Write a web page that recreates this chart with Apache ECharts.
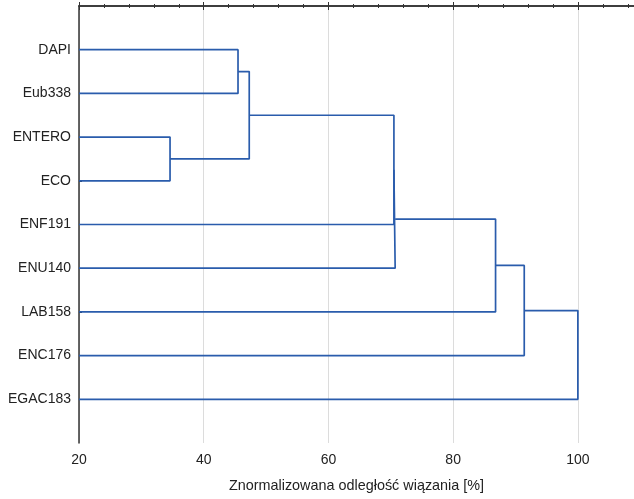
<!DOCTYPE html>
<html style="height: 100%">
<head>
    <meta charset="utf-8">
</head>
<body style="height: 100%; margin: 0">
<div id="container" style="width: 634px; height: 499px;"></div>

<script type="text/javascript" src="https://cdn.jsdelivr.net/npm/echarts@6/dist/echarts.min.js"></script>
<script type="text/javascript">
    // leaves, top to bottom
    var leaves = ['DAPI', 'Eub338', 'ENTERO', 'ECO', 'ENF191', 'ENU140', 'LAB158', 'ENC176', 'EGAC183'];
    // each merge joins two nodes (0..8 leaves, 9.. earlier merges) at a linkage distance
    var mergePairs = [[0, 1], [2, 3], [9, 10], [11, 4], [12, 5], [13, 6], [14, 7], [15, 8]];
    var mergeHeights = [45.5, 34.6, 47.3, 70.5, 70.7, 86.8, 91.4, 100];
    var xTicks = [20, 40, 60, 80, 100];

    var lineColor = '#2a5cac';
    var textColor = '#222';
    var font = 'Liberation Sans, Arial, sans-serif';

    // node positions: leaves sit at 1..9, a merge sits midway between its children
    var nodeY = leaves.map(function (n, i) { return i + 1; });
    var nodeH = leaves.map(function () { return 20; });
    var series = [];
    mergePairs.forEach(function (p, k) {
        var h = mergeHeights[k];
        var a = p[0], b = p[1];
        series.push({
            type: 'line',
            data: [[nodeH[a], nodeY[a]], [h, nodeY[a]], [h, nodeY[b]], [nodeH[b], nodeY[b]]],
            showSymbol: false,
            symbol: 'none',
            silent: true,
            animation: false,
            lineStyle: { color: lineColor, width: 1.7 }
        });
        nodeY.push((nodeY[a] + nodeY[b]) / 2);
        nodeH.push(h);
    });

    var dom = document.getElementById('container');
    var myChart = echarts.init(dom);

    var option = {
        animation: false,
        grid: { left: 79, right: 0, top: 6, bottom: 56, containLabel: false },
        xAxis: [{
            type: 'value',
            min: 20,
            max: 109,
            interval: 20,
            name: 'Znormalizowana odległość wiązania [%]',
            nameLocation: 'middle',
            nameGap: 36,
            nameTextStyle: { color: textColor, fontSize: 14.4, fontFamily: font },
            axisLine: { show: true, lineStyle: { color: '#333', width: 1.5 } },
            axisTick: { show: true, inside: true, length: 4, lineStyle: { color: '#333' } },
            minorTick: { show: true, splitNumber: 5, length: 2, lineStyle: { color: '#333' } },
            axisLabel: {
                color: textColor, fontSize: 14, fontFamily: font, margin: 10,
                customValues: xTicks
            },
            splitLine: { show: true, lineStyle: { color: '#dcdcdc', width: 1 } }
        }, {
            type: 'value',
            position: 'top',
            min: 20,
            max: 109,
            interval: 20,
            axisLine: { show: true, lineStyle: { color: '#333', width: 1.5 } },
            axisTick: { show: true, inside: true, length: 4, lineStyle: { color: '#333' } },
            minorTick: { show: true, splitNumber: 5, length: 2, lineStyle: { color: '#333' } },
            axisLabel: { show: false },
            splitLine: { show: false }
        }],
        yAxis: {
            type: 'value',
            inverse: true,
            min: 0,
            max: 10,
            interval: 1,
            axisLine: { show: true, lineStyle: { color: '#333', width: 1.5 } },
            axisTick: {
                show: true, inside: true, length: 3,
                customValues: nodeY.slice(0, leaves.length),
                lineStyle: { color: '#333' }
            },
            axisLabel: {
                color: textColor, fontSize: 14, fontFamily: font, margin: 8,
                customValues: nodeY.slice(0, leaves.length),
                formatter: function (v) { return leaves[v - 1] || ''; }
            },
            splitLine: { show: false }
        },
        series: series
    };

    myChart.setOption(option);
</script>
</body>
</html>
